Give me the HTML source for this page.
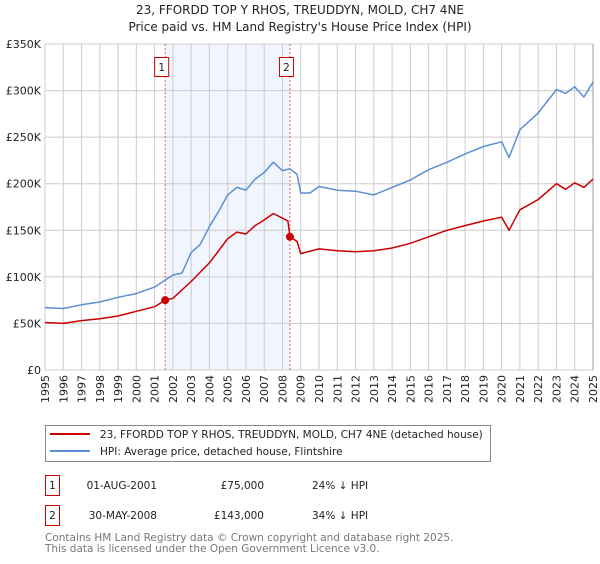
<!DOCTYPE html>
<html><head><meta charset="utf-8">
<style>
html,body{margin:0;padding:0;background:#fff;}
body{width:600px;height:560px;overflow:hidden;font-family:"DejaVu Sans","Liberation Sans",sans-serif;}
svg text{font-family:"DejaVu Sans","Liberation Sans",sans-serif;}
</style></head>
<body>
<svg id="chart" width="600" height="560" xmlns="http://www.w3.org/2000/svg">
<text x="300" y="14" text-anchor="middle" font-size="12" fill="#222">23, FFORDD TOP Y RHOS, TREUDDYN, MOLD, CH7 4NE</text>
<text x="300" y="31" text-anchor="middle" font-size="12" fill="#222">Price paid vs. HM Land Registry's House Price Index (HPI)</text>
<g id="grid"></g>
<g id="marks"></g>
<g id="axes"></g>
<g>
<rect x="45.5" y="425.5" width="445" height="36" fill="#fff" stroke="#888"/>
<line x1="50" y1="434" x2="90" y2="434" stroke="#cc0000" stroke-width="2"/>
<text x="100" y="438" font-size="10.5" fill="#222">23, FFORDD TOP Y RHOS, TREUDDYN, MOLD, CH7 4NE (detached house)</text>
<line x1="50" y1="451" x2="90" y2="451" stroke="#5b8fd4" stroke-width="2"/>
<text x="100" y="455" font-size="10.5" fill="#222">HPI: Average price, detached house, Flintshire</text>
</g>
<g font-size="10.5" fill="#222">
<rect x="45.5" y="475.5" width="14" height="20" fill="#fff" stroke="#cc0000"/>
<text x="52.5" y="489" text-anchor="middle">1</text>
<text x="157" y="489" text-anchor="end">01-AUG-2001</text>
<text x="264" y="489" text-anchor="end">£75,000</text>
<text x="312" y="489">24% ↓ HPI</text>
<rect x="45.5" y="505.5" width="14" height="20" fill="#fff" stroke="#cc0000"/>
<text x="52.5" y="519" text-anchor="middle">2</text>
<text x="157" y="519" text-anchor="end">30-MAY-2008</text>
<text x="264" y="519" text-anchor="end">£143,000</text>
<text x="312" y="519">34% ↓ HPI</text>
</g>
<text x="45" y="541" font-size="10.5" fill="#777">Contains HM Land Registry data © Crown copyright and database right 2025.</text>
<text x="45" y="552" font-size="10.5" fill="#777">This data is licensed under the Open Government Licence v3.0.</text>
</svg>
<script>
const hpiYears = [1995,1996,1997,1998,1999,2000,2001,2001.6,2002,2002.5,2003,2003.5,2004,2004.5,2005,2005.5,2006,2006.5,2007,2007.5,2008,2008.4,2008.8,2009,2009.5,2010,2011,2012,2013,2014,2015,2016,2017,2018,2019,2020,2020.4,2021,2022,2023,2023.5,2024,2024.5,2025];
const hpiValues = [67,66,70,73,78,82,89,97,102,104,126,135,154,170,188,196,193,205,212,223,214,216,210,190,190,197,193,192,188,196,204,215,223,232,240,245,228,258,276,301,297,304,293,309];
const paidYears = [1995,1996,1997,1998,1999,2000,2001,2001.58,2002,2003,2004,2005,2005.5,2006,2006.5,2007,2007.5,2008,2008.3,2008.41,2008.8,2009,2010,2011,2012,2013,2014,2015,2016,2017,2018,2019,2020,2020.4,2021,2022,2023,2023.5,2024,2024.5,2025];
const paidValues = [51,50,53,55,58,63,68,75,77,95,115,141,148,146,155,161,168,163,160,143,138,125,130,128,127,128,131,136,143,150,155,160,164,150,172,183,200,194,201,196,205];
const sales = [{x:2001.58,v:75,label:"1"},{x:2008.41,v:143,label:"2"}];
const yTicks = [0,50,100,150,200,250,300,350];
const yTickLabels = ["£0","£50K","£100K","£150K","£200K","£250K","£300K","£350K"];
const xTicks = [1995,1996,1997,1998,1999,2000,2001,2002,2003,2004,2005,2006,2007,2008,2009,2010,2011,2012,2013,2014,2015,2016,2017,2018,2019,2020,2021,2022,2023,2024,2025];

const NS="http://www.w3.org/2000/svg";
const X0=45,X1=593,Y0=370,Y1=44;
function xs(t){return X0+(t-1995)/30*(X1-X0);}
function ys(v){return Y0-v/350*(Y0-Y1);}
function mk(tag,attrs,parent){const e=document.createElementNS(NS,tag);for(const k in attrs)e.setAttribute(k,attrs[k]);parent.appendChild(e);return e;}
const grid=document.getElementById('grid'),marks=document.getElementById('marks'),axes=document.getElementById('axes');

const band=mk('rect',{x:xs(sales[0].x),y:Y1,width:xs(sales[1].x)-xs(sales[0].x),height:Y0-Y1,fill:'#eef3fc',opacity:0.8},grid);



yTicks.forEach((v,i)=>{
  const l=mk('line',{x1:X0,x2:X1,y1:ys(v),y2:ys(v),stroke:'#cccccc','stroke-width':1},grid);
  
  
  const t=mk('text',{x:X0-4,y:ys(v)+4,'text-anchor':'end','font-size':'11',fill:'#222'},axes);
  t.textContent=yTickLabels[i];
  
  
});
xTicks.forEach(yr=>{
  const l=mk('line',{x1:xs(yr),x2:xs(yr),y1:Y1,y2:Y0,stroke:'#cccccc','stroke-width':1},grid);
  
  
  const t=mk('text',{x:0,y:0,'text-anchor':'end','font-size':'11',fill:'#222',transform:`translate(${xs(yr)+4},375) rotate(-90)`},axes);
  t.textContent=String(yr);
  
  
});
const edge=mk('line',{x1:X1,x2:X1,y1:Y1,y2:Y0,stroke:'#999','stroke-width':1},grid);



sales.forEach(s=>{
  const l=mk('line',{x1:xs(s.x),x2:xs(s.x),y1:Y1,y2:Y0,stroke:'#e06060','stroke-width':1,'stroke-dasharray':'2,2'},marks);
  
  
});

function path(xsArr,vArr,color,name){
  const d=xsArr.map((t,i)=>(i?'L':'M')+xs(t).toFixed(1)+','+ys(vArr[i]).toFixed(1)).join(' ');
  const p=mk('path',{d:d,fill:'none',stroke:color,'stroke-width':1.5,'stroke-linejoin':'round'},marks);
  
  
}
path(hpiYears,hpiValues,'#5b8fd4','hpi-line');
path(paidYears,paidValues,'#cc0000','price-paid-line');

sales.forEach(s=>{
  const c=mk('circle',{cx:xs(s.x),cy:ys(s.v),r:4,fill:'#cc0000'},marks);
  
  
  const r=mk('rect',{x:xs(s.x)-10.5,y:57.5,width:14,height:19,fill:'#fff',stroke:'#cc0000'},marks);
  
  
  const t=mk('text',{x:xs(s.x)-3.5,y:71,'text-anchor':'middle','font-size':'10.5',fill:'#222'},marks);
  t.textContent=s.label;
  
  
});
</script>
</body></html>
